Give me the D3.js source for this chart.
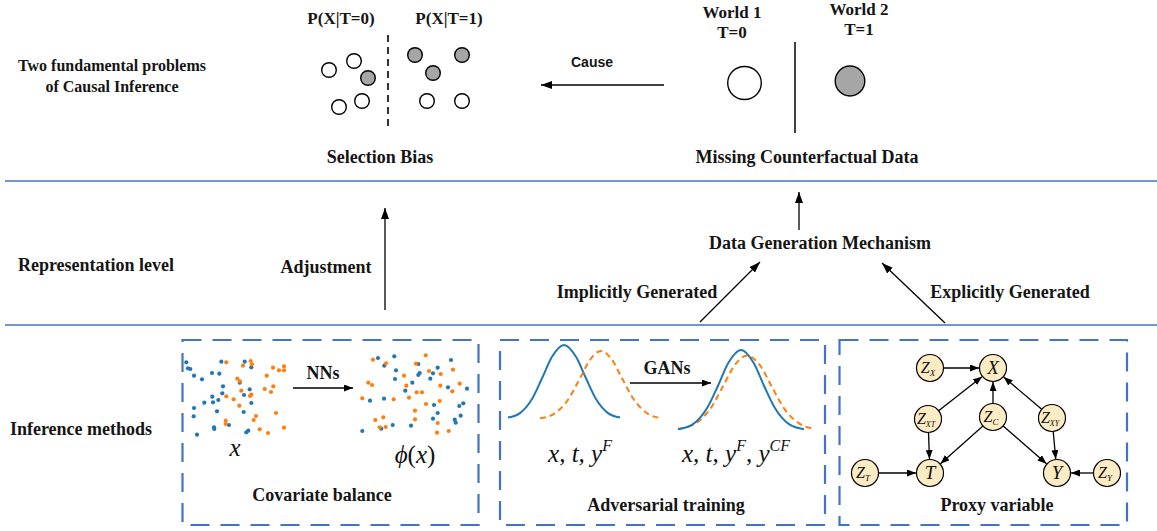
<!DOCTYPE html>
<html>
<head>
<meta charset="utf-8">
<title>Causal inference overview</title>
<style>
  body { margin: 0; padding: 0; background: #fff; }
  svg { display: block; }
  .lbl { font-family: "Liberation Serif", serif; font-weight: bold; font-size: 18px; fill: #151515; }
  .sans { font-family: "Liberation Sans", sans-serif; font-weight: bold; font-size: 14px; fill: #151515; }
  .math { font-family: "Liberation Serif", serif; font-style: italic; font-size: 25px; fill: #111; }
  .node-lbl { font-family: "Liberation Serif", serif; font-style: italic; fill: #111; }
  .rule { stroke: #4472c4; stroke-width: 1.5; }
  .box { fill: none; stroke: #4472c4; stroke-width: 2.2; stroke-dasharray: 19, 11; }
  .flow { stroke: #000; stroke-width: 1.3; fill: none; }
</style>
</head>
<body>
<div id="chart"></div>
<script src="https://d3js.org/d3.v7.min.js"></script>
<script>
// ---------------- data ----------------
var rowLabels = [["Two fundamental problems", "of Causal Inference"], ["Representation level"], ["Inference methods"]];
var problemTitles = ["Selection Bias", "Missing Counterfactual Data"];
var groupTitles = ["P(X|T=0)", "P(X|T=1)"];
var worldNames = ["World 1", "World 2"];
var worldTreat = ["T=0", "T=1"];
var methodTitles = ["Covariate balance", "Adversarial training", "Proxy variable"];
var flowLabels = ["Cause", "Adjustment", "Data Generation Mechanism", "Implicitly Generated", "Explicitly Generated"];
var stepLabels = ["NNs", "GANs"];

// selection bias sample: [feature a, feature b, treated]
var biasSamples = [
  [39, 50, 0], [64, 41, 0], [49, 87, 0], [72, 81, 0], [78, 58, 1],
  [125, 35, 1], [172, 35, 1], [143, 53, 1], [137, 81, 0], [172, 81, 0]
];

// covariates before NNs: [x1, x2]
var controlRaw = [[8.3,12.3],[10,18.3],[12.3,19],[16,25.7],[24,29.3],[43.3,11.7],[34,23],[41.3,23.7],[66.7,11.7],[73.3,17.3],
  [61.7,32.7],[45,36.3],[44.3,43.3],[34.3,46.7],[40.3,50],[35,52.3],[26.3,52.7],[71.7,39.3],[66,45],[73.3,53],
  [16,58],[39,61.3],[65.7,62],[15.7,66.3],[51,75],[36,77.3],[36.3,79],[19,84.7],[68.3,82.3],[70.3,80.7]];
var treatedRaw = [[48.3,12.3],[72.7,11],[74,14.3],[65,15.7],[95,17.7],[106,16.3],[101,20.3],[106,20.3],[88.7,25.7],[59.3,28.7],
  [62,31.3],[63.3,40.7],[73.3,44.7],[72,46],[86.7,39],[95.3,36.3],[93,42],[48.3,46.3],[55.7,49.3],[61.3,55.7],
  [98,63],[78,66],[75.7,70],[47.7,70.7],[47.7,74],[81.7,79.3],[90,83],[106,77.7]];
// representation phi(x) after NNs
var controlRep = [[23,8],[39.3,6.3],[29.3,15.7],[63.3,14],[41,20.3],[64.7,23],[63.3,25],[82.7,17.7],[78,23.3],[75.3,28.7],
  [96,10],[40,29],[57.3,32.7],[50.3,40.7],[93,37.3],[112,38.7],[15,50.7],[29,48.7],[79,55],[108.3,53.3],
  [104.3,56],[82.7,63],[105.7,65.7],[78,68.7],[99.7,69.7],[100.7,72.7],[56,75.7],[37.7,75],[26.3,78.7],[7.3,81]];
var treatedRep = [[18,9.7],[31,13.3],[70.7,5.3],[61,13.7],[74,21],[85.7,24],[98,19.7],[49,25.7],[13.3,32.7],[17,35],
  [51.3,35.7],[61.7,42.3],[67,42.3],[85.3,35.7],[104.7,33.7],[97.3,41.3],[7.3,48.3],[38.7,49.3],[54,47.7],[71,54],
  [84.7,51],[60,60.7],[60,69.3],[28.3,67.3],[20.3,70],[24.7,77.3],[30.7,77],[82.7,73],[82,82.7],[93.7,81]];

// densities before / after GANs: [value, density]
var factualBefore = [[-2.8,0.02],[-2.2,0.08],[-1.6,0.27],[-1.1,0.55],[-0.6,0.84],[0,1],[0.6,0.84],[1.1,0.55],[1.6,0.27],[2.2,0.08],[2.8,0.02]];
var counterBefore = [[-1.2,0.01],[-0.5,0.07],[0.2,0.26],[0.8,0.55],[1.3,0.8],[1.85,0.92],[2.4,0.8],[2.9,0.55],[3.5,0.26],[4.2,0.07],[4.9,0.01]];
var factualAfter = [[-3,0.01],[-2.3,0.07],[-1.6,0.28],[-1.1,0.55],[-0.6,0.84],[0,1],[0.6,0.84],[1.1,0.55],[1.6,0.28],[2.3,0.07],[3,0.01]];
var counterAfter = [[-3,0.013],[-2.2,0.077],[-1.45,0.27],[-0.85,0.55],[-0.3,0.81],[0.3,0.93],[0.9,0.81],[1.45,0.55],[2.05,0.27],[2.8,0.077],[3.5,0.013]];

// proxy variable graph
var dagNodes = [
  { id: "ZX", base: "Z", sub: "X", u: [100, 38] },
  { id: "X", base: "X", sub: "", u: [163, 38] },
  { id: "ZXT", base: "Z", sub: "XT", u: [98, 89] },
  { id: "ZC", base: "Z", sub: "C", u: [163, 87] },
  { id: "ZXY", base: "Z", sub: "XY", u: [222, 88] },
  { id: "ZT", base: "Z", sub: "T", u: [35, 143] },
  { id: "T", base: "T", sub: "", u: [100, 143] },
  { id: "Y", base: "Y", sub: "", u: [227, 143] },
  { id: "ZY", base: "Z", sub: "Y", u: [277, 143] }
];
var dagEdges = [["ZX","X"],["ZXT","X"],["ZC","X"],["ZXY","X"],["ZXT","T"],["ZC","T"],["ZC","Y"],["ZXY","Y"],["ZT","T"],["ZY","Y"]];

// ---------------- layout ----------------
var width = 1157, height = 531;
var blue = "#1f77b4", orange = "#ff7f0e";

var svg = d3.select("#chart").append("svg")
  .attr("width", width)
  .attr("height", height);

var defs = svg.append("defs");
function marker(id, w, h) {
  defs.append("marker")
    .attr("id", id)
    .attr("viewBox", "0 0 " + w + " " + h)
    .attr("refX", w).attr("refY", h / 2)
    .attr("markerWidth", w).attr("markerHeight", h)
    .attr("markerUnits", "userSpaceOnUse")
    .attr("orient", "auto")
    .append("path")
    .attr("d", "M0,0L" + w + "," + (h / 2) + "L0," + h + "Z")
    .attr("fill", "#000");
}
marker("head", 11, 8);
marker("headSmall", 9, 7);

function arrow(x1, y1, x2, y2, m) {
  svg.append("line").attr("class", "flow")
    .attr("x1", x1).attr("y1", y1).attr("x2", x2).attr("y2", y2)
    .attr("marker-end", "url(#" + (m || "head") + ")");
}

function label(text, x, y, cls) {
  return svg.append("text").attr("class", cls || "lbl")
    .attr("x", x).attr("y", y)
    .attr("text-anchor", "middle")
    .text(text);
}

// horizontal separators
svg.selectAll(".rule").data([181, 325]).enter()
  .append("line").attr("class", "rule")
  .attr("x1", 5).attr("x2", width)
  .attr("y1", function (d) { return d; }).attr("y2", function (d) { return d; });

// row labels
label(rowLabels[0][0], 112, 71).style("font-size", "16px");
label(rowLabels[0][1], 112, 92).style("font-size", "16px");
label(rowLabels[1][0], 96, 271);
label(rowLabels[2][0], 81, 435);

// ---- selection bias ----
var bx = d3.scaleLinear().domain([0, 200]).range([290, 490]);
var by = d3.scaleLinear().domain([0, 110]).range([20, 130]);
label(groupTitles[0], 341, 24).style("font-size", "17px");
label(groupTitles[1], 449, 24).style("font-size", "17px");
svg.append("line")
  .attr("x1", 388).attr("x2", 388).attr("y1", 35).attr("y2", 128)
  .attr("stroke", "#333").attr("stroke-width", 2).attr("stroke-dasharray", "7,5");
svg.append("g").selectAll("circle").data(biasSamples).enter()
  .append("circle")
  .attr("cx", function (d) { return bx(d[0]); })
  .attr("cy", function (d) { return by(d[1]); })
  .attr("r", 7.3)
  .attr("fill", function (d) { return d[2] ? "#a6a6a6" : "#fff"; })
  .attr("stroke", "#000").attr("stroke-width", 1.4);
label(problemTitles[0], 380, 163);

// ---- cause ----
label(flowLabels[0], 592, 67, "sans");
arrow(664, 85, 541, 85);

// ---- worlds ----
var wx = d3.scalePoint().domain(worldNames).range([744.5, 850]);
var wr = d3.scaleOrdinal().domain(worldNames).range([[16.8, 16.5], [14.8, 15]]);
var wlab = d3.scaleOrdinal().domain(worldNames).range([[732, 18], [859, 15]]);
worldNames.forEach(function (w, i) {
  label(w, wlab(w)[0], wlab(w)[1]).style("font-size", "17px");
  label(worldTreat[i], wlab(w)[0], wlab(w)[1] + 20).style("font-size", "17px");
  svg.append("ellipse")
    .attr("cx", wx(w)).attr("cy", i ? 81 : 83)
    .attr("rx", wr(w)[0]).attr("ry", wr(w)[1])
    .attr("fill", i ? "#a6a6a6" : "#fff")
    .attr("stroke", "#000").attr("stroke-width", 1.4);
});
svg.append("line")
  .attr("x1", 795).attr("x2", 795).attr("y1", 42).attr("y2", 133)
  .attr("stroke", "#000").attr("stroke-width", 1.5);
label(problemTitles[1], 807, 163);

// ---- representation level ----
arrow(385, 310, 385, 208);
label(flowLabels[1], 326, 273);
arrow(799, 230, 799, 192);
label(flowLabels[2], 820, 249);
arrow(700, 322, 760, 262);
label(flowLabels[3], 637, 298);
arrow(945, 323, 882, 263);
label(flowLabels[4], 1010, 298);

// ---- method boxes ----
var boxes = [[182.5, 478.5], [500, 825], [839.5, 1127]];
svg.selectAll(".box").data(boxes).enter()
  .append("rect").attr("class", "box")
  .attr("x", function (d) { return d[0]; })
  .attr("y", 340)
  .attr("width", function (d) { return d[1] - d[0]; })
  .attr("height", 185);
label(methodTitles[0], 322, 501);
label(methodTitles[1], 666, 511);
label(methodTitles[2], 997, 511);

// ---- covariate balance scatter ----
function scatter(sets, x0, y0) {
  var sx = d3.scaleLinear().domain([0, 120]).range([x0, x0 + 120]);
  var sy = d3.scaleLinear().domain([0, 90]).range([y0, y0 + 90]);
  sets.forEach(function (s) {
    svg.append("g").selectAll("circle").data(s.data).enter()
      .append("circle")
      .attr("cx", function (d) { return sx(d[0]); })
      .attr("cy", function (d) { return sy(d[1]); })
      .attr("r", 2.1)
      .attr("fill", s.color);
  });
}
scatter([{ data: controlRaw, color: blue }, { data: treatedRaw, color: orange }], 178, 350);
scatter([{ data: controlRep, color: blue }, { data: treatedRep, color: orange }], 355, 350);
label(stepLabels[0], 323, 379);
arrow(293, 388, 353, 388, "headSmall");

svg.append("text").attr("class", "math").attr("x", 235).attr("y", 456).attr("text-anchor", "middle").text("x");
var phi = svg.append("text").attr("class", "math").attr("x", 415).attr("y", 463).attr("text-anchor", "middle");
phi.append("tspan").text("\u03D5");
phi.append("tspan").attr("font-style", "normal").text("(");
phi.append("tspan").text("x");
phi.append("tspan").attr("font-style", "normal").text(")");

// ---- adversarial training densities ----
function densities(pairs, xDom, xRange, yRange) {
  var sx = d3.scaleLinear().domain(xDom).range(xRange);
  var sy = d3.scaleLinear().domain([0, 1]).range(yRange);
  var line = d3.line()
    .x(function (d) { return sx(d[0]); })
    .y(function (d) { return sy(d[1]); })
    .curve(d3.curveMonotoneX);
  pairs.forEach(function (p) {
    svg.append("path")
      .attr("d", line(p.data))
      .attr("fill", "none")
      .attr("stroke", p.color)
      .attr("stroke-width", 2)
      .attr("stroke-dasharray", p.dash ? "6,4" : null);
  });
}
densities([{ data: factualBefore, color: blue }, { data: counterBefore, color: orange, dash: true }],
  [-3, 5], [504, 664], [419, 345]);
densities([{ data: counterAfter, color: orange, dash: true }, { data: factualAfter, color: blue }],
  [-3, 3.5], [678, 814.5], [430, 350]);
label(stepLabels[1], 667, 374);
arrow(630, 383, 711, 383, "headSmall");

function mathText(x, y, sups) {
  var t = svg.append("text").attr("class", "math").attr("x", x).attr("y", y).attr("text-anchor", "middle");
  t.append("tspan").text("x, t, ");
  sups.forEach(function (s, i) {
    t.append("tspan").text("y");
    t.append("tspan").attr("dy", -11).attr("font-size", 16).text(s);
    t.append("tspan").attr("dy", 11).text(i < sups.length - 1 ? ", " : "");
  });
}
mathText(580, 462, ["F"]);
mathText(736, 462, ["F", "CF"]);

// ---- proxy variable DAG ----
var gx = d3.scaleLinear().domain([0, 327]).range([830, 1157]);
var gy = d3.scaleLinear().domain([0, 200]).range([330, 530]);
var nodeR = 13.5;
var byId = {};
dagNodes.forEach(function (n) { byId[n.id] = n; });

svg.append("g").selectAll("line").data(dagEdges).enter()
  .append("line")
  .each(function (e) {
    var a = byId[e[0]], b = byId[e[1]];
    var x1 = gx(a.u[0]), y1 = gy(a.u[1]), x2 = gx(b.u[0]), y2 = gy(b.u[1]);
    var len = Math.hypot(x2 - x1, y2 - y1);
    var ux = (x2 - x1) / len, uy = (y2 - y1) / len;
    d3.select(this)
      .attr("x1", x1 + ux * nodeR).attr("y1", y1 + uy * nodeR)
      .attr("x2", x2 - ux * (nodeR + 0.5)).attr("y2", y2 - uy * (nodeR + 0.5));
  })
  .attr("stroke", "#000").attr("stroke-width", 1.3)
  .attr("marker-end", "url(#headSmall)");

var nodes = svg.append("g").selectAll("g").data(dagNodes).enter()
  .append("g")
  .attr("transform", function (d) { return "translate(" + gx(d.u[0]) + "," + gy(d.u[1]) + ")"; });
nodes.append("circle")
  .attr("r", nodeR)
  .attr("fill", "#fcecc4")
  .attr("stroke", "#000").attr("stroke-width", 1.2);
var nt = nodes.append("text").attr("class", "node-lbl")
  .attr("text-anchor", "middle")
  .attr("y", function (d) { return d.sub ? 5 : 6; })
  .attr("x", function (d) { return d.sub ? -2 : 0; })
  .attr("font-size", function (d) { return d.sub ? 16 : 19; });
nt.append("tspan").text(function (d) { return d.base; });
nt.append("tspan")
  .attr("font-size", function (d) { return d.sub.length > 1 ? 8 : 9; })
  .attr("dy", 3)
  .text(function (d) { return d.sub; });
</script>
</body>
</html>
